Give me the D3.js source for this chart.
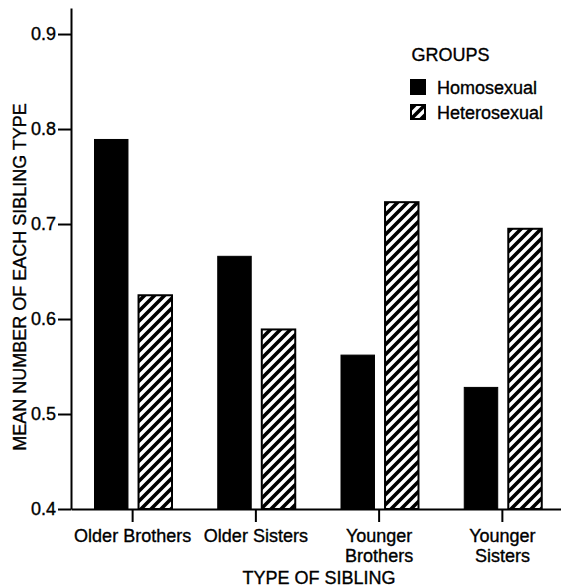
<!DOCTYPE html>
<html>
<head>
<meta charset="utf-8">
<script src="https://cdn.jsdelivr.net/npm/d3@7"></script>
<style>
  html, body { margin: 0; padding: 0; background: #fff; }
  svg { display: block; }
  text { font-family: "Liberation Sans", Arial, Helvetica, sans-serif; fill: #000; stroke: #000; stroke-width: 0.35px; }
</style>
</head>
<body>
<svg id="chart" width="561" height="588"></svg>
<script>
const categories = ["Older Brothers", "Older Sisters", "Younger\nBrothers", "Younger\nSisters"];
const groups = ["Homosexual", "Heterosexual"];
const homosexual = [0.789, 0.666, 0.562, 0.528];
const heterosexual = [0.625, 0.589, 0.723, 0.695];
const yTicks = [0.4, 0.5, 0.6, 0.7, 0.8, 0.9];
const yTitle = "MEAN NUMBER OF EACH SIBLING TYPE";
const xTitle = "TYPE OF SIBLING";
const legendTitle = "GROUPS";

const series = { Homosexual: homosexual, Heterosexual: heterosexual };

const svg = d3.select("#chart");
const FS = 18;

// hatch pattern
const defs = svg.append("defs");
const pat = defs.append("pattern")
  .attr("id", "hatch")
  .attr("patternUnits", "userSpaceOnUse")
  .attr("width", 10).attr("height", 10);
pat.append("rect").attr("width", 10).attr("height", 10).attr("fill", "#fff");
pat.append("path")
  .attr("d", "M-2,2 L2,-2 M0,10 L10,0 M8,12 L12,8")
  .attr("stroke", "#000").attr("stroke-width", 3.6);

const x = d3.scaleBand().domain(categories).range([71, 564]).paddingInner(0).paddingOuter(0);
const x1 = d3.scaleBand().domain(groups).range([23.5, 101]).paddingInner(0.24).paddingOuter(0);
const y = d3.scaleLinear().domain([0.4, 0.9274]).range([509, 8]);

// bars
const gBars = svg.append("g");
categories.forEach((c, i) => {
  groups.forEach(gname => {
    const v = series[gname][i];
    gBars.append("rect")
      .attr("x", x(c) + x1(gname))
      .attr("y", y(v))
      .attr("width", x1.bandwidth())
      .attr("height", y(0.4) - y(v))
      .attr("fill", gname === "Homosexual" ? "#000" : "url(#hatch)")
      .attr("stroke", "#000")
      .attr("stroke-width", gname === "Homosexual" ? 1 : 2);
  });
});

// y axis
const yAxis = svg.append("g")
  .attr("transform", "translate(71,0)")
  .call(d3.axisLeft(y).tickValues(yTicks).tickSize(13).tickSizeOuter(0).tickPadding(2).tickFormat(d3.format(".1f")));
yAxis.select(".domain").attr("stroke-width", 2);
yAxis.selectAll(".tick line").attr("stroke-width", 2);
yAxis.selectAll("text").attr("font-size", FS).attr("font-family", null);

// x axis
const xAxis = svg.append("g")
  .attr("transform", `translate(0,${y(0.4)})`)
  .call(d3.axisBottom(x).tickSize(13).tickSizeOuter(0).tickPadding(7));
xAxis.select(".domain").attr("stroke-width", 2);
xAxis.selectAll(".tick line").attr("stroke-width", 2);
xAxis.selectAll(".tick text").each(function(d) {
  const t = d3.select(this);
  const lines = d.split("\n");
  t.text(null).attr("font-size", FS).attr("font-family", null);
  lines.forEach((ln, k) => {
    t.append("tspan").attr("x", 0).attr("dy", k === 0 ? "0.71em" : "1.12em").text(ln);
  });
});

// axis titles
svg.append("text")
  .attr("transform", `translate(26,${(y(0.4) + 45) / 2}) rotate(-90)`)
  .attr("text-anchor", "middle")
  .attr("font-size", FS)
  .text(yTitle);

svg.append("text")
  .attr("x", 319).attr("y", 584)
  .attr("text-anchor", "middle")
  .attr("font-size", FS)
  .text(xTitle);

// legend
const lg = svg.append("g").attr("transform", "translate(410,0)");
lg.append("text").attr("x", 1.5).attr("y", 60.5).attr("font-size", FS).text(legendTitle);
groups.forEach((gname, k) => {
  lg.append("rect")
    .attr("x", 1).attr("y", 80 + k * 25)
    .attr("width", 14).attr("height", 14)
    .attr("fill", gname === "Homosexual" ? "#000" : "url(#hatch)")
    .attr("stroke", "#000").attr("stroke-width", 2);
  lg.append("text").attr("x", 27).attr("y", 94 + k * 25).attr("font-size", FS).text(gname);
});
</script>
</body>
</html>
